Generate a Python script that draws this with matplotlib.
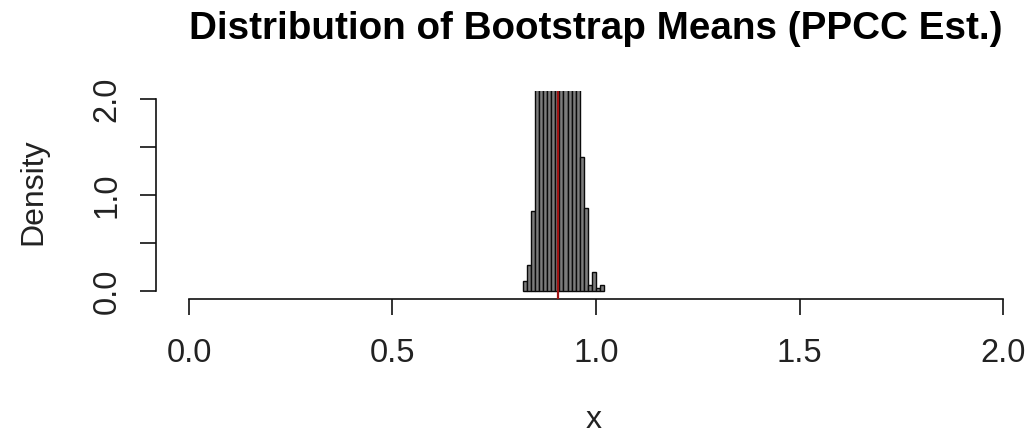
import numpy as np
import matplotlib
matplotlib.use("Agg")
import matplotlib.pyplot as plt

# Histogram of bootstrap means: bin edges (width 0.01) and counts per bin
bin_start = 0.82
bin_width = 0.01
counts = [3, 8, 25, 105, 185, 270, 345, 385, 400, 375,
          325, 250, 160, 85, 42, 26, 2, 6, 1, 2]
n_boot = 3000
mean_est = 0.907

xticks = [0.0, 0.5, 1.0, 1.5, 2.0]
yticks = [0.0, 0.5, 1.0, 1.5, 2.0]
ytick_labels = ["0.0", "", "1.0", "", "2.0"]

title = "Distribution of Bootstrap Means (PPCC Est.)"

bin_left = bin_start + bin_width * np.arange(len(counts))
density = np.array(counts) / (n_boot * bin_width)

W, H, DPI = 1030, 433, 100
fig = plt.figure(figsize=(W / DPI, H / DPI), dpi=DPI)
fig.patch.set_facecolor("white")

font = ["Liberation Sans", "DejaVu Sans"]
plt.rcParams["font.family"] = font

# Plot region in pixels (R-style 4% padding around the 0..2 range)
xlo, xhi = -0.08, 2.08
ylo, yhi = -0.08, 2.08
px0, px1 = 156.4, 1035.6
py_top, py_bot = 91.3, 298.7
ax = fig.add_axes([px0 / W, 1 - py_bot / H, (px1 - px0) / W, (py_bot - py_top) / H])
ax.set_xlim(xlo, xhi)
ax.set_ylim(ylo, yhi)
ax.set_facecolor("none")

ax.bar(bin_left, density, width=bin_width, align="edge",
       color="#7c7c7c", edgecolor="#0a0a0a", linewidth=1.0, zorder=2)
ax.axvline(mean_est, color="#a01515", linewidth=1.6, zorder=3)

for s in ["top", "right"]:
    ax.spines[s].set_visible(False)
for s in ["left", "bottom"]:
    ax.spines[s].set_linewidth(1.2)
    ax.spines[s].set_color("#111111")
ax.spines["left"].set_bounds(0, 2)
ax.spines["bottom"].set_bounds(0, 2)

ax.set_xticks(xticks)
ax.set_xticklabels([f"{v:.1f}" for v in xticks])
ax.set_yticks(yticks)
ax.set_yticklabels(ytick_labels, rotation=90, va="center")
ax.tick_params(axis="both", direction="out", length=11.5, width=1.2,
               color="#111111", labelsize=23.5, labelcolor="#222222")
ax.tick_params(axis="x", pad=17)
ax.tick_params(axis="y", pad=13)

fig.text(596 / W, 1 - 39 / H, title, ha="center", va="baseline",
         fontsize=27.8, fontweight="bold", color="black")
fig.text(33 / W, 1 - 191.5 / H, "Density", ha="center", va="center",
         rotation=90, fontsize=23, color="#222222")
fig.text(594 / W, 1 - 428 / H, "x", ha="center", va="baseline",
         fontsize=23, color="#222222")

fig.savefig("out.png", dpi=DPI, facecolor="white")
